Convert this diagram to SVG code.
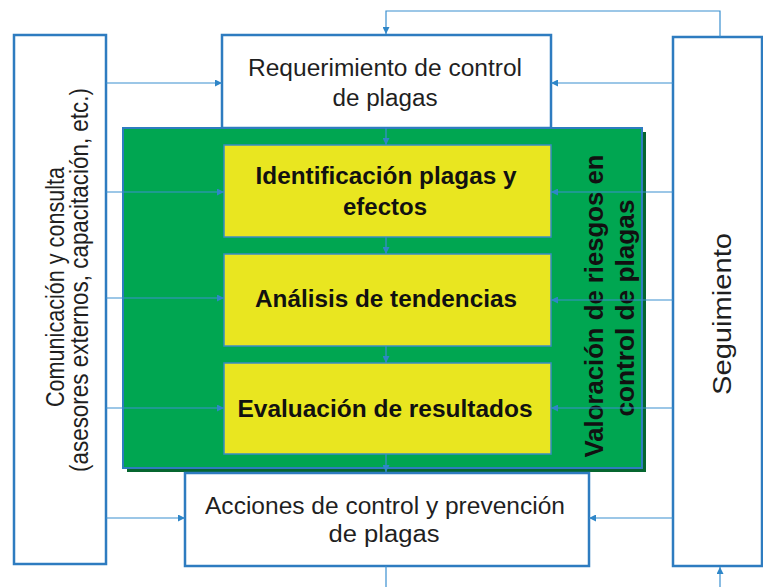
<svg xmlns="http://www.w3.org/2000/svg" width="763" height="587" viewBox="0 0 763 587">
<defs>
<marker id="ah" viewBox="0 0 10 10" refX="10" refY="5" markerWidth="7" markerHeight="7" markerUnits="userSpaceOnUse" orient="auto">
<path d="M0,0 L10,5 L0,10 z" fill="#2f86c8"/>
</marker>
<style>
.box{fill:#ffffff;stroke:#2e7cc0;stroke-width:2.5}
.yb{fill:#e9e620;stroke:#3a8cc4;stroke-width:1.5}
.cn{fill:none;stroke:#3a8fd0;stroke-width:1.2}
.t{font-family:"Liberation Sans",Arial,sans-serif;fill:#1f1f1f;text-anchor:middle}
.b{font-weight:bold;fill:#111}
</style>
</defs>
<rect width="763" height="587" fill="#ffffff"/>
<g id="comunicacion">
<rect class="box" x="14" y="35" width="92" height="529"/>
<text class="t" font-size="26" textLength="240" lengthAdjust="spacingAndGlyphs" transform="translate(64,287) rotate(-90)">Comunicación y consulta</text>
<text class="t" font-size="26" textLength="384" lengthAdjust="spacingAndGlyphs" transform="translate(88,280) rotate(-90)">(asesores externos, capacitación, etc.)</text>
</g>
<g id="requerimiento">
<rect class="box" x="222" y="35" width="329" height="93"/>
<text class="t" font-size="23" x="385" y="76" textLength="274" lengthAdjust="spacingAndGlyphs">Requerimiento de control</text>
<text class="t" font-size="23" x="385" y="106" textLength="105" lengthAdjust="spacingAndGlyphs">de plagas</text>
</g>
<g id="seguimiento">
<rect class="box" x="673" y="37" width="89" height="529"/>
<text class="t" font-size="25" textLength="162" lengthAdjust="spacingAndGlyphs" transform="translate(731,314) rotate(-90)">Seguimiento</text>
</g>
<g id="valoracion">
<rect x="127" y="132" width="519" height="340" fill="#05662f"/>
<rect x="123" y="128" width="519" height="340" fill="#00a651" stroke="#2e7cc0" stroke-width="2"/>
<text class="t b" font-size="25" textLength="303" lengthAdjust="spacingAndGlyphs" transform="translate(603,306) rotate(-90)">Valoración de riesgos en</text>
<text class="t b" font-size="25" textLength="217" lengthAdjust="spacingAndGlyphs" transform="translate(634,308) rotate(-90)">control de plagas</text>
</g>
<g id="acciones">
<rect class="box" x="185" y="473" width="404" height="93"/>
<text class="t" font-size="23" x="385" y="514" textLength="360" lengthAdjust="spacingAndGlyphs">Acciones de control y prevención</text>
<text class="t" font-size="23" x="384" y="542" textLength="111" lengthAdjust="spacingAndGlyphs">de plagas</text>
</g>
<g id="identificacion">
<rect class="yb" x="224" y="145" width="327" height="92"/>
<text class="t b" font-size="23" x="386" y="184" textLength="261" lengthAdjust="spacingAndGlyphs">Identificación plagas y</text>
<text class="t b" font-size="23" x="385" y="215" textLength="84" lengthAdjust="spacingAndGlyphs">efectos</text>
</g>
<g id="analisis">
<rect class="yb" x="224" y="254" width="327" height="92"/>
<text class="t b" font-size="23" x="386" y="307" textLength="262" lengthAdjust="spacingAndGlyphs">Análisis de tendencias</text>
</g>
<g id="evaluacion">
<rect class="yb" x="224" y="363" width="327" height="91"/>
<text class="t b" font-size="23" x="385" y="417" textLength="295" lengthAdjust="spacingAndGlyphs">Evaluación de resultados</text>
</g>
<g id="connectors">
<line class="cn" x1="106" y1="83" x2="222" y2="83" marker-end="url(#ah)"/>
<line class="cn" x1="106" y1="192" x2="224" y2="192" marker-end="url(#ah)"/>
<line class="cn" x1="106" y1="298" x2="224" y2="298" marker-end="url(#ah)"/>
<line class="cn" x1="106" y1="408" x2="224" y2="408" marker-end="url(#ah)"/>
<line class="cn" x1="106" y1="518" x2="185" y2="518" marker-end="url(#ah)"/>
<line class="cn" x1="673" y1="83" x2="551" y2="83" marker-end="url(#ah)"/>
<line class="cn" x1="673" y1="192" x2="551" y2="192" marker-end="url(#ah)"/>
<line class="cn" x1="673" y1="300" x2="551" y2="300" marker-end="url(#ah)"/>
<line class="cn" x1="673" y1="408" x2="551" y2="408" marker-end="url(#ah)"/>
<line class="cn" x1="673" y1="518" x2="589" y2="518" marker-end="url(#ah)"/>
<line class="cn" x1="386" y1="128" x2="386" y2="145" marker-end="url(#ah)"/>
<line class="cn" x1="386" y1="237" x2="386" y2="254" marker-end="url(#ah)"/>
<line class="cn" x1="386" y1="346" x2="386" y2="363" marker-end="url(#ah)"/>
<line class="cn" x1="386" y1="454" x2="386" y2="472" marker-end="url(#ah)"/>
<line class="cn" x1="386" y1="566" x2="386" y2="587"/>
<line class="cn" x1="720" y1="590" x2="720" y2="567" marker-end="url(#ah)"/>
<polyline class="cn" points="720,37 720,11 386,11 386,34" marker-end="url(#ah)"/>
</g>
</svg>
